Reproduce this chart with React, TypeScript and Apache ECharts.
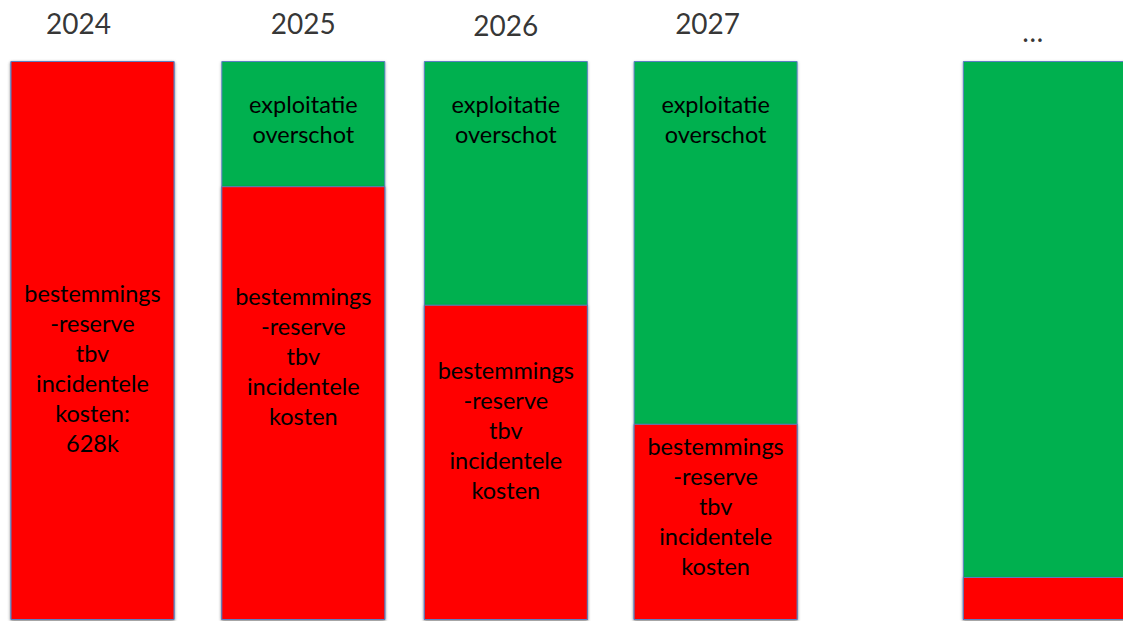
import React, { useEffect, useRef } from "react";
import * as echarts from "echarts";

// ---- data ----
const years = ["2024", "2025", "2026", "2027", "…"];
// share of the bar (percent) held by the earmarked reserve (red) and operating surplus (green)
const reserveShare = [100, 77.6, 56.4, 35.1, 7.7];
const surplusShare = [0, 22.4, 43.6, 64.9, 92.3];
const reserveText = [
  "bestemmings\n-reserve\ntbv\nincidentele\nkosten:\n628k",
  "bestemmings\n-reserve\ntbv\nincidentele\nkosten",
  "bestemmings\n-reserve\ntbv\nincidentele\nkosten",
  "bestemmings\n-reserve\ntbv\nincidentele\nkosten",
  "",
];
const surplusText = ["", "exploitatie\noverschot", "exploitatie\noverschot", "exploitatie\noverschot", ""];

// ---- layout (not data) ----
const slot = [0, 1.015, 1.99, 3, 4.585];
const reserveLabelDy = [27, -47, -32, -16, 0];
const yearLabelOffset = [[-14, 0], [0, 0], [0, 2], [-8, 0], [-12, 8]];

const FONT = "Lato, 'Open Sans', sans-serif";

export default function App() {
  const ref = useRef<HTMLDivElement>(null);
  useEffect(() => {
    if (!ref.current) return;
    const chart = echarts.init(ref.current, null, { renderer: "svg" });
    const itemBase = {
      borderColor: "#5b7fc2",
      borderWidth: 1,
      shadowBlur: 3,
      shadowColor: "rgba(0,0,0,0.3)",
      shadowOffsetY: 1,
    };
    chart.setOption({
      animation: false,
      backgroundColor: "#ffffff",
      grid: { left: 0, right: 0, top: 61, height: 559 },
      xAxis: {
        type: "value",
        min: -0.4454,
        max: 4.9614,
        show: false,
      },
      yAxis: { type: "value", min: 0, max: 100, show: false },
      series: [
        {
          // green surplus: drawn as the full column (reserve + surplus) beneath the red reserve
          type: "bar",
          name: "surplus",
          barWidth: 164,
          barGap: "-100%",
          itemStyle: { ...itemBase, color: "#00b050" },
          data: surplusShare.map((v, i) => ({
            value: [slot[i], reserveShare[i] + v],
            label: {
              show: surplusText[i] !== "",
              formatter: surplusText[i],
              position: "insideTop",
              distance: 28,
              fontFamily: FONT,
              fontSize: 23.5,
              lineHeight: 30,
              color: "#000",
              align: "center",
            },
          })),
        },
        {
          type: "bar",
          name: "reserve",
          barWidth: 164,
          barGap: "-100%",
          itemStyle: { ...itemBase, color: "#ff0000" },
          data: reserveShare.map((v, i) => ({
            value: [slot[i], v],
            label: {
              show: reserveText[i] !== "",
              formatter: reserveText[i],
              position: "inside",
              offset: [0, reserveLabelDy[i]],
              fontFamily: FONT,
              fontSize: 23.5,
              lineHeight: 30,
              color: "#000",
              align: "center",
            },
          })),
        },
        {
          type: "scatter",
          name: "years",
          symbolSize: 0,
          silent: true,
          data: years.map((y, i) => ({
            value: [slot[i], reserveShare[i] + surplusShare[i]],
            label: {
              show: true,
              formatter: y,
              position: "top",
              distance: 24.5,
              offset: yearLabelOffset[i],
              fontFamily: FONT,
              fontSize: 28,
              lineHeight: 28,
              color: "#000",
            },
          })),
        },
      ],
    });
    return () => chart.dispose();
  }, []);
  return (
    <div
      ref={ref}
      style={{ position: "fixed", left: 0, top: 0, width: 1123, height: 621, background: "#fff" }}
    />
  );
}
